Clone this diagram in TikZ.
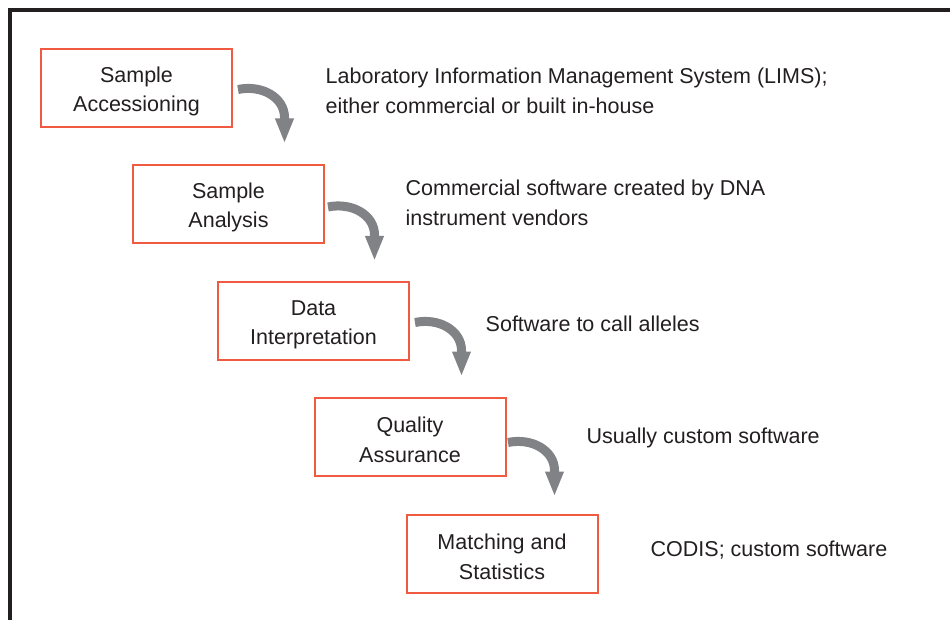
\documentclass[tikz,border=0pt]{standalone}
\usepackage{fontspec}
\setmainfont{Liberation Sans}
\usetikzlibrary{arrows.meta,calc}
\definecolor{boxred}{RGB}{239,90,64}
\definecolor{ink}{RGB}{35,31,32}
\definecolor{arrowgray}{RGB}{128,130,133}
\newcommand{\boxlift}{\rule{0pt}{22pt}}
\begin{document}
\begin{tikzpicture}[x=1pt,y=-1pt,
  txt/.style={text=ink,font=\fontsize{21.5}{29.5}\selectfont},
  stepbox/.style={txt,draw=boxred,line width=2pt,minimum width=191pt,minimum height=78pt,inner sep=0pt,align=center},
  note/.style={txt,inner sep=0pt,align=left,anchor=west},
  flow/.style={draw=arrowgray,line width=9pt,-{Triangle[width=17pt,length=25pt]}}
]
\useasboundingbox (0,0) rectangle (950,620);
\draw[ink,line width=3.3pt] (10,620) -- (10,10) -- (950,10);

\node[stepbox] (b1) at (136.5,88) {\boxlift Sample\\Accessioning};
\node[stepbox] (b2) at (228.5,204) {\boxlift Sample\\Analysis};
\node[stepbox] (b3) at (313.5,321) {\boxlift Data\\Interpretation};
\node[stepbox] (b4) at (410,436.5) {\boxlift Quality\\Assurance};
\node[stepbox] (b5) at (502,553.5) {\boxlift Matching and\\Statistics};

\node[note] (l1) at (325.5,91) {Laboratory Information Management System (LIMS);\\either commercial or built in-house};
\node[note] (l2) at (405.5,203) {Commercial software created by DNA\\instrument vendors};
\node[note,anchor=base west] (l3) at (485.5,331) {Software to call alleles};
\node[note,anchor=base west] (l4) at (586.5,443) {Usually custom software};
\node[note,anchor=base west] (l5) at (650.5,556) {CODIS; custom software};

\draw[flow] ($(b1.east)+(5,1.5)$) .. controls +(24,-5) and +(0,-20) .. ++(46.5,28) -- ++(0,26);
\draw[flow] ($(b2.east)+(3,3)$) .. controls +(24,-5) and +(0,-20) .. ++(46.5,28) -- ++(0,26);
\draw[flow] ($(b3.east)+(5,1.5)$) .. controls +(24,-5) and +(0,-20) .. ++(46.5,28) -- ++(0,26);
\draw[flow] ($(b4.east)+(1.5,6)$) .. controls +(24,-5) and +(0,-20) .. ++(46.5,28) -- ++(0,26);
\end{tikzpicture}
\end{document}
